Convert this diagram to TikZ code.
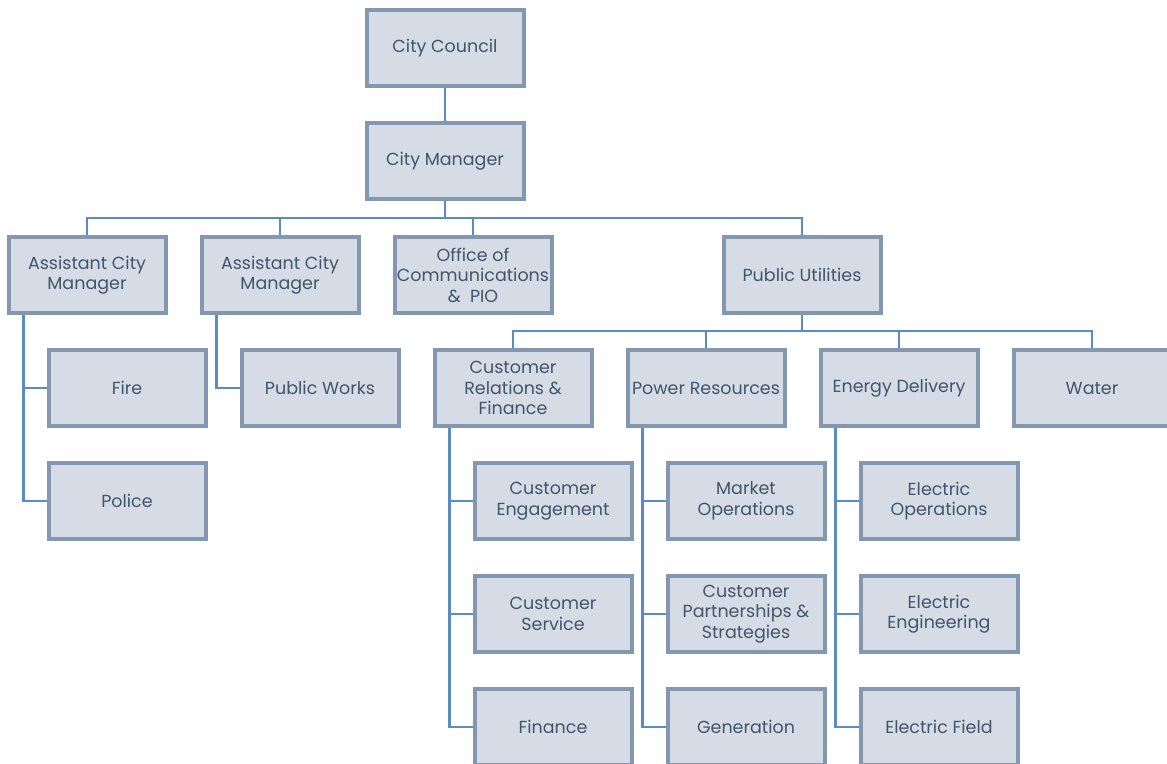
\documentclass[tikz,border=0pt]{standalone}
\usepackage{fontspec}
\setmainfont{Poppins}
\usepackage{tikz}
\usepackage{xcolor}
\usetikzlibrary{positioning,backgrounds}
\definecolor{boxfill}{HTML}{D6DCE5}
\definecolor{boxline}{HTML}{8497B0}
\definecolor{linkblue}{HTML}{5A8CC4}
\definecolor{txt}{HTML}{44546A}
\tikzset{unit/.style={draw=boxline, fill=boxfill, line width=4pt, minimum width=157pt,
  minimum height=76pt, inner sep=0pt, align=center, text=txt,
  font=\fontsize{17.5}{20.5}\selectfont}}
\tikzset{link/.style={draw=linkblue, line width=2.6pt}}

\begin{document}
\begin{tikzpicture}[x=1pt,y=-1pt]
  \clip (0,0) rectangle (1167,763);
  \node [unit] (cc) at (445,48) {City Council};
  \node [unit] (cm) at (445,161) {City Manager};

  \node [unit] (acm1) at (87,275) {Assistant City\\Manager};
  \node [unit] (acm2) at (280,275) {Assistant City\\Manager};
  \node [unit] (pio) at (473,275) {Office of\\Communications\\\&~~PIO};
  \node [unit] (pu) at (802,275) {Public Utilities};

  \node [unit] (fire) at (127,388) {Fire};
  \node [unit] (police) at (127,501) {Police};
  \node [unit] (works) at (320,388) {Public Works};

  \node [unit] (crf) at (513,388) {Customer\\Relations \&\\Finance};
  \node [unit] (power) at (706,388) {Power Resources};
  \node [unit] (energy) at (899,388) {Energy Delivery};
  \node [unit] (water) at (1092,388) {Water};

  \node [unit] (engage) at (553,501) {Customer\\Engagement};
  \node [unit] (service) at (553,614) {Customer\\Service};
  \node [unit] (finance) at (553,727) {Finance};
  \node [unit] (market) at (746,501) {Market\\Operations};
  \node [unit] (partner) at (746,614) {Customer\\Partnerships \&\\Strategies};
  \node [unit] (gen) at (746,727) {Generation};
  \node [unit] (elecops) at (939,501) {Electric\\Operations};
  \node [unit] (eleceng) at (939,614) {Electric\\Engineering};
  \node [unit] (field) at (939,727) {Electric Field};

  \begin{pgfonlayer}{background}
  \coordinate (bus1) at (445,218);
  \coordinate (bus2) at (802,331);
  \draw [link] (cc) -- (cm);
  \draw [link] (cm) -- (bus1);
  \foreach \n in {acm1,acm2,pio,pu}
    \draw [link] (bus1) -| (\n.north);
  \draw [link] (pu) -- (bus2);
  \foreach \n in {crf,power,energy,water}
    \draw [link] (bus2) -| (\n.north);
  \foreach \n in {fire,police}
    \draw [link] ([xshift=17pt]acm1.south west) |- (\n.west);
  \draw [link] ([xshift=17pt]acm2.south west) |- (works.west);
  \foreach \n in {engage,service,finance}
    \draw [link] ([xshift=17pt]crf.south west) |- (\n.west);
  \foreach \n in {market,partner,gen}
    \draw [link] ([xshift=17pt]power.south west) |- (\n.west);
  \foreach \n in {elecops,eleceng,field}
    \draw [link] ([xshift=17pt]energy.south west) |- (\n.west);
  \end{pgfonlayer}
\end{tikzpicture}
\end{document}
